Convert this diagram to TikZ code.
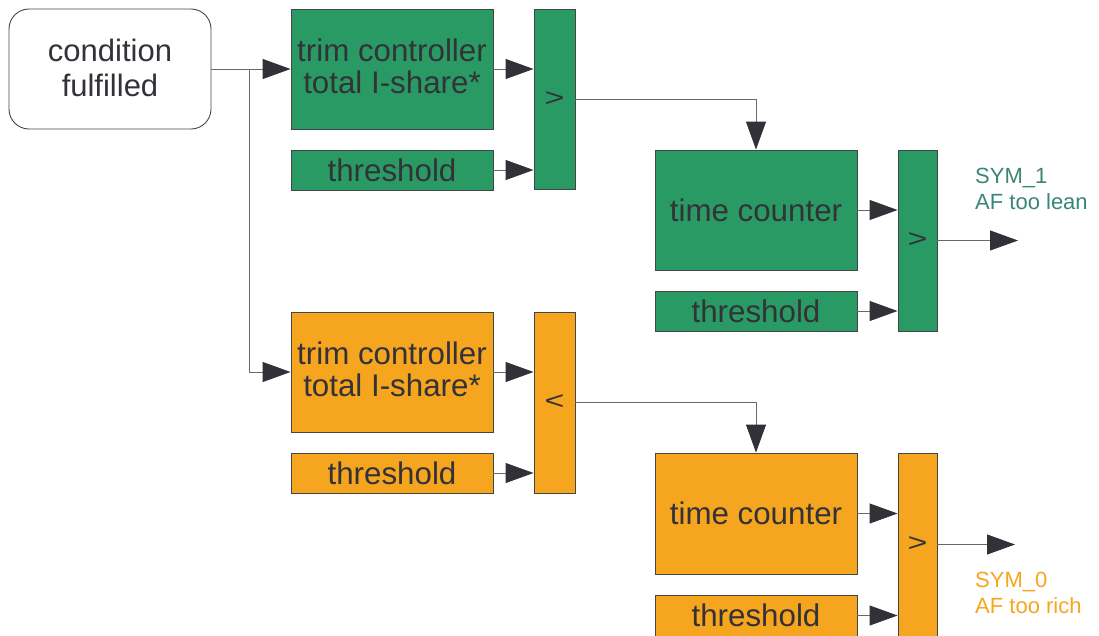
\documentclass[tikz,border=0pt]{standalone}
\usepackage{fontspec}
\setmainfont{Liberation Sans}
\usetikzlibrary{arrows.meta}
\definecolor{blockgreen}{HTML}{2A9A64}
\definecolor{blockorange}{HTML}{F6A51E}
\definecolor{edgegray}{HTML}{454545}
\definecolor{wiregray}{HTML}{6A6A6A}
\definecolor{tipdark}{HTML}{313138}
\definecolor{inkdark}{HTML}{323238}
\definecolor{leangreen}{HTML}{3A8676}
\begin{document}
\begin{tikzpicture}[x=1pt,y=-1pt,
  blk/.style={draw=edgegray,line width=0.9pt,inner sep=0pt,align=center,
    text=inkdark,font=\fontsize{31.3}{32}\selectfont},
  gblk/.style={blk,fill=blockgreen},
  oblk/.style={blk,fill=blockorange},
  cmpsign/.style={text=inkdark,font=\fontsize{34}{34}\selectfont,yscale=0.75,inner sep=0pt},
  wire/.style={draw=wiregray,line width=0.9pt},
  flow/.style={wire,-{Triangle[length=28pt,width=20pt,color=tipdark]}},
  sig/.style={anchor=north west,inner sep=0pt,align=left,
    font=\fontsize{22}{26}\selectfont}]
\useasboundingbox (0,0) rectangle (1099,635);
\clip (0,0) rectangle (1099,635);

% start condition
\node[blk,rounded corners=20pt,fill=white,minimum width=202pt,minimum height=120pt,
  font=\fontsize{31}{36}\selectfont] (cond) at (110,69) {condition\\[-1pt]fulfilled\\[-33pt]\mbox{}};

% lean branch (green)
\node[gblk,minimum width=202pt,minimum height=120pt] (trimA) at (392,69)
  {trim controller\\total I-share*\\[-27pt]\mbox{}};
\node[gblk,minimum width=202pt,minimum height=40pt] (thrA) at (392,170) {threshold};
\node[gblk,minimum width=41pt,minimum height=180pt] (cmpA) at (554.5,99) {};
\node[cmpsign] at (cmpA) {>};
\node[gblk,minimum width=202pt,minimum height=120pt] (cntA) at (756,210) {time counter};
\node[gblk,minimum width=202pt,minimum height=40pt] (thrB) at (756,311) {threshold};
\node[gblk,minimum width=39pt,minimum height=181pt] (cmpB) at (917.5,240.5) {};
\node[cmpsign] at (cmpB) {>};
\coordinate (outA) at (1018,240.5);
\node[sig,text=leangreen] (symA) at (975,168) {SYM\_1\\AF too lean};

% rich branch (orange)
\node[oblk,minimum width=202pt,minimum height=120pt] (trimB) at (392,372)
  {trim controller\\total I-share*\\[-27pt]\mbox{}};
\node[oblk,minimum width=202pt,minimum height=40pt] (thrC) at (392,473) {threshold};
\node[oblk,minimum width=41pt,minimum height=181pt] (cmpC) at (554.5,402.5) {};
\node[cmpsign] at (cmpC) {<};
\node[oblk,minimum width=202pt,minimum height=121pt] (cntB) at (756,513.5) {time counter};
\node[oblk,minimum width=202pt,minimum height=41pt] (thrD) at (756,615.5) {threshold};
\node[oblk,minimum width=39pt,minimum height=183pt] (cmpD) at (917.5,544.5) {};
\node[cmpsign] at (cmpD) {>};
\coordinate (outB) at (1015,544.5);
\node[sig,text=blockorange] (symB) at (975,572) {SYM\_0\\AF too rich};

% connectors
\coordinate (split) at (249,69);
\draw[wire] (cond.east) -- (split);
\draw[flow] (split) -- (trimA.west);
\draw[flow] (split) |- (trimB.west);

\draw[flow] (trimA.east) -- (trimA.east -| cmpA.west);
\draw[flow] (thrA.east) -- (thrA.east -| cmpA.west);
\draw[flow] (cmpA.east) -| (cntA.north);
\draw[flow] (cntA.east) -- (cntA.east -| cmpB.west);
\draw[flow] (thrB.east) -- (thrB.east -| cmpB.west);
\draw[flow] (cmpB.east) -- (outA);

\draw[flow] (trimB.east) -- (trimB.east -| cmpC.west);
\draw[flow] (thrC.east) -- (thrC.east -| cmpC.west);
\draw[flow] (cmpC.east) -| (cntB.north);
\draw[flow] (cntB.east) -- (cntB.east -| cmpD.west);
\draw[flow] (thrD.east) -- (thrD.east -| cmpD.west);
\draw[flow] (cmpD.east) -- (outB);
\end{tikzpicture}
\end{document}
